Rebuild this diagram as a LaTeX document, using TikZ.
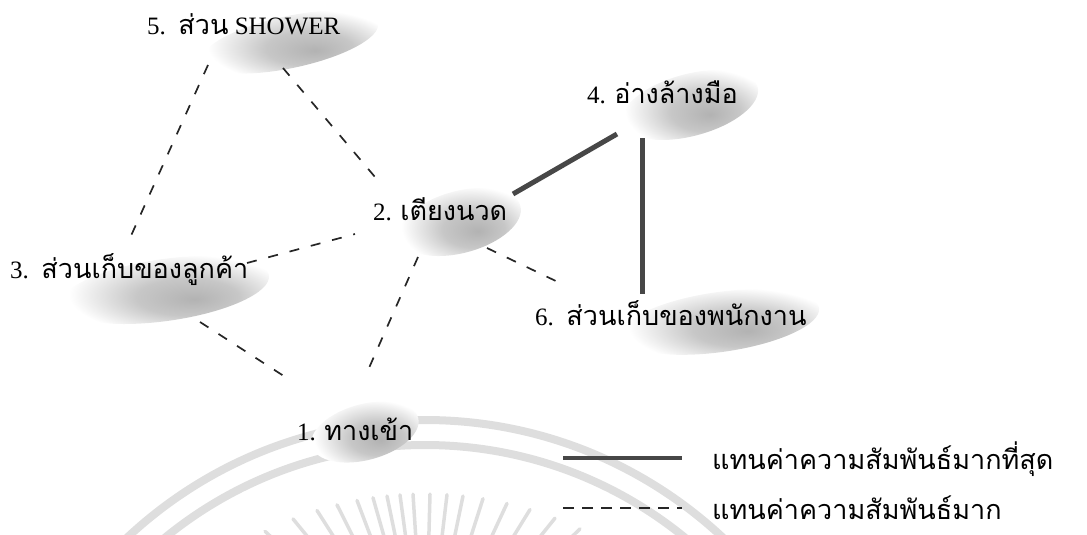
\documentclass[tikz,border=0pt]{standalone}
\usepackage{fontspec}
\setmainfont{Liberation Serif}
\newfontfamily\thai[Script=Thai]{Loma}
\usetikzlibrary{shapes.geometric,calc}
\pgfdeclareradialshading{blobshade}{\pgfpoint{7bp}{-6bp}}{color(0bp)=(black!30); color(12bp)=(black!22); color(21bp)=(black!8); color(26bp)=(white); color(50bp)=(white)}
\tikzset{
  lbl/.style={anchor=base west, inner sep=0pt, font=\fontsize{25}{30}\selectfont},
  blob/.style={ellipse, shading=blobshade, inner sep=0pt},
  rel/.style={line width=1.7pt, dash pattern=on 10pt off 12pt, black!85},
  strong/.style={line width=5pt, black!72},
  wm/.style={black!13},
}
\newcommand{\T}[1]{{\thai\fontsize{27}{30}\selectfont #1}}
\begin{document}
\begin{tikzpicture}[x=1pt,y=1pt]
\useasboundingbox (0,0) rectangle (1087,-535);
\begin{scope}
\clip (0,0) rectangle (1087,-535);
% watermark
\draw[wm, line width=8pt] (425,-856) circle (436);
\draw[wm, line width=8pt] (425,-856) circle (411);
\foreach \x in {265,293,317,337,357,373,387,400,413,430,447,463,483,507,530,555,580} {
  \pgfmathsetmacro\py{-856+362*sqrt(1-((\x-425)/362)^2)}
  \draw[wm, line width=3.5pt, line cap=round] (\x,\py) -- ($(\x,\py)!60pt!(425,-680)$);
}
\end{scope}
% blobs
\node[blob, minimum width=180pt, minimum height=52pt, rotate=12] (b5) at (290,-42) {};
\node[blob, minimum width=140pt, minimum height=62pt, rotate=15] (b4) at (690,-105) {};
\node[blob, minimum width=125pt, minimum height=62pt, rotate=15] (b2) at (460,-222) {};
\node[blob, minimum width=210pt, minimum height=62pt, rotate=8] (b3) at (165,-290) {};
\node[blob, minimum width=200pt, minimum height=60pt, rotate=8] (b6) at (720,-322) {};
\node[blob, minimum width=110pt, minimum height=56pt, rotate=15] (b1) at (365,-432) {};
% labels
\node[lbl] (t5) at (147,-35) {5.\ \ \T{ส่วน} SHOWER};
\node[lbl] (t4) at (587,-103) {4. \T{อ่างล้างมือ}};
\node[lbl] (t2) at (373,-220) {2. \T{เตียงนวด}};
\node[lbl] (t3) at (10,-278) {3.\ \ \T{ส่วนเก็บของลูกค้า}};
\node[lbl] (t6) at (535,-325) {6.\ \ \T{ส่วนเก็บของพนักงาน}};
\node[lbl] (t1) at (297,-440) {1. \T{ทางเข้า}};
% connectors
\draw[rel] ($(b5)+(-82,-23)$) -- ($(b3)+(-35,52)$);
\draw[rel] ($(b5)+(-7,-26)$) -- ($(b2)+(-85,45)$);
\draw[rel] ($(b3)+(82,27)$) -- ($(b2)+(-105,-12)$);
\draw[rel] ($(b2)+(-42,-35)$) -- ($(b1)+(0,55)$);
\draw[rel] ($(b3)+(35,-32)$) -- ($(b1)+(-75,52)$);
\draw[rel] ($(b2)+(27,-26)$) -- ($(b6)+(-160,39)$);
\draw[strong] ($(b2)+(53,28)$) -- ($(b4)+(-73,-29)$);
\draw[strong] ($(b4)+(-48,-33)$) -- ($(b6)+(-78,28)$);
% legend
\coordinate (s1) at (563,-458);
\coordinate (s2) at (682,-458);
\coordinate (d1) at (563,-508);
\coordinate (d2) at (682,-508);
\draw[strong, line width=4.5pt] (s1) -- (s2);
\draw[line width=1.4pt, dash pattern=on 11pt off 8pt, black!85] (d1) -- (d2);
\node[lbl] (l1) at (712,-469) {\T{แทนค่าความสัมพันธ์มากที่สุด}};
\node[lbl] (l2) at (712,-519) {\T{แทนค่าความสัมพันธ์มาก}};
\end{tikzpicture}
\end{document}
